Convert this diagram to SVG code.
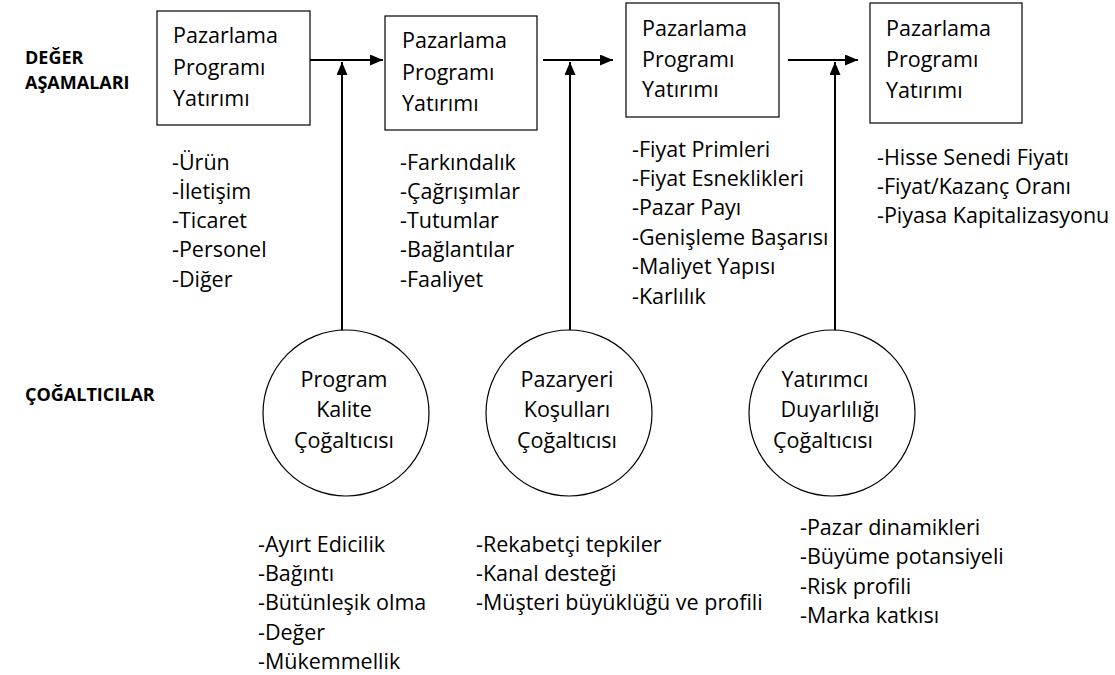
<svg xmlns="http://www.w3.org/2000/svg" width="1115" height="675" viewBox="0 0 1115 675">
  <style>
    text { font-family: "Open Sans", "Noto Sans", "Liberation Sans", sans-serif; font-size: 21.5px; fill: #000; }
    .lbl { font-weight: bold; font-size: 18px; }
    .box { fill: #fff; stroke: #000; stroke-width: 1.2; }
    .circ { fill: #fff; stroke: #000; stroke-width: 1.2; }
    .conn { fill: none; stroke: #000; stroke-width: 2; }
    .mid { text-anchor: middle; }
  </style>
  <defs>
    <marker id="arrow" markerWidth="13" markerHeight="11" refX="13" refY="5.5" orient="auto" markerUnits="userSpaceOnUse">
      <path d="M0,0 L13,5.5 L0,11 z" fill="#000"/>
    </marker>
  </defs>

  <rect width="1115" height="675" fill="#fff"/>

  <!-- row labels -->
  <g id="labels">
    <text class="lbl" x="25" y="64">DEĞER</text>
    <text class="lbl" x="25" y="89">AŞAMALARI</text>
    <text class="lbl" x="25" y="401">ÇOĞALTICILAR</text>
  </g>

  <!-- connectors -->
  <g id="connectors">
    <path class="conn" d="M310,60 H383" marker-end="url(#arrow)"/>
    <path class="conn" d="M342,331 V62" marker-end="url(#arrow)"/>
    <path class="conn" d="M543,60 H613" marker-end="url(#arrow)"/>
    <path class="conn" d="M570,331 V62" marker-end="url(#arrow)"/>
    <path class="conn" d="M788,60 H858" marker-end="url(#arrow)"/>
    <path class="conn" d="M835,331 V62" marker-end="url(#arrow)"/>
  </g>

  <!-- value stages -->
  <g id="stage1">
    <rect class="box" x="157" y="11" width="153" height="114"/>
    <text x="173" y="43">Pazarlama</text>
    <text x="173" y="75">Programı</text>
    <text x="173" y="106">Yatırımı</text>
  </g>
  <g id="stage2">
    <rect class="box" x="385" y="16" width="152" height="114"/>
    <text x="402" y="48">Pazarlama</text>
    <text x="402" y="80">Programı</text>
    <text x="402" y="111">Yatırımı</text>
  </g>
  <g id="stage3">
    <rect class="box" x="626" y="3" width="153" height="114"/>
    <text x="642" y="36">Pazarlama</text>
    <text x="642" y="67">Programı</text>
    <text x="642" y="97">Yatırımı</text>
  </g>
  <g id="stage4">
    <rect class="box" x="870" y="3" width="152" height="120"/>
    <text x="886" y="36">Pazarlama</text>
    <text x="886" y="67">Programı</text>
    <text x="886" y="98">Yatırımı</text>
  </g>

  <!-- stage metrics -->
  <g id="list1">
    <text x="172" y="170">-Ürün</text>
    <text x="172" y="199">-İletişim</text>
    <text x="172" y="228">-Ticaret</text>
    <text x="172" y="257">-Personel</text>
    <text x="172" y="287">-Diğer</text>
  </g>
  <g id="list2">
    <text x="400" y="170">-Farkındalık</text>
    <text x="400" y="199">-Çağrışımlar</text>
    <text x="400" y="228">-Tutumlar</text>
    <text x="400" y="257">-Bağlantılar</text>
    <text x="400" y="287">-Faaliyet</text>
  </g>
  <g id="list3">
    <text x="632" y="157">-Fiyat Primleri</text>
    <text x="632" y="186">-Fiyat Esneklikleri</text>
    <text x="632" y="215">-Pazar Payı</text>
    <text x="632" y="245">-Genişleme Başarısı</text>
    <text x="632" y="274">-Maliyet Yapısı</text>
    <text x="632" y="304">-Karlılık</text>
  </g>
  <g id="list4">
    <text x="877" y="165">-Hisse Senedi Fiyatı</text>
    <text x="877" y="194">-Fiyat/Kazanç Oranı</text>
    <text x="877" y="223">-Piyasa Kapitalizasyonu</text>
  </g>

  <!-- multipliers -->
  <g id="mult1">
    <circle class="circ" cx="346" cy="413" r="83"/>
    <text class="mid" x="344" y="387">Program</text>
    <text class="mid" x="344" y="417">Kalite</text>
    <text class="mid" x="344" y="448">Çoğaltıcısı</text>
  </g>
  <g id="mult2">
    <circle class="circ" cx="569" cy="413" r="83"/>
    <text class="mid" x="567" y="387">Pazaryeri</text>
    <text class="mid" x="567" y="417">Koşulları</text>
    <text class="mid" x="567" y="448">Çoğaltıcısı</text>
  </g>
  <g id="mult3">
    <circle class="circ" cx="832" cy="413" r="83"/>
    <text class="mid" x="825" y="387">Yatırımcı</text>
    <text class="mid" x="830" y="417">Duyarlılığı</text>
    <text class="mid" x="823" y="448">Çoğaltıcısı</text>
  </g>

  <!-- multiplier factors -->
  <g id="listA">
    <text x="258" y="552">-Ayırt Edicilik</text>
    <text x="258" y="581">-Bağıntı</text>
    <text x="258" y="610">-Bütünleşik olma</text>
    <text x="258" y="640">-Değer</text>
    <text x="258" y="669">-Mükemmellik</text>
  </g>
  <g id="listB">
    <text x="476" y="552">-Rekabetçi tepkiler</text>
    <text x="476" y="581">-Kanal desteği</text>
    <text x="476" y="610">-Müşteri büyüklüğü ve profili</text>
  </g>
  <g id="listC">
    <text x="800" y="535">-Pazar dinamikleri</text>
    <text x="800" y="564">-Büyüme potansiyeli</text>
    <text x="800" y="594">-Risk profili</text>
    <text x="800" y="623">-Marka katkısı</text>
  </g>
</svg>
